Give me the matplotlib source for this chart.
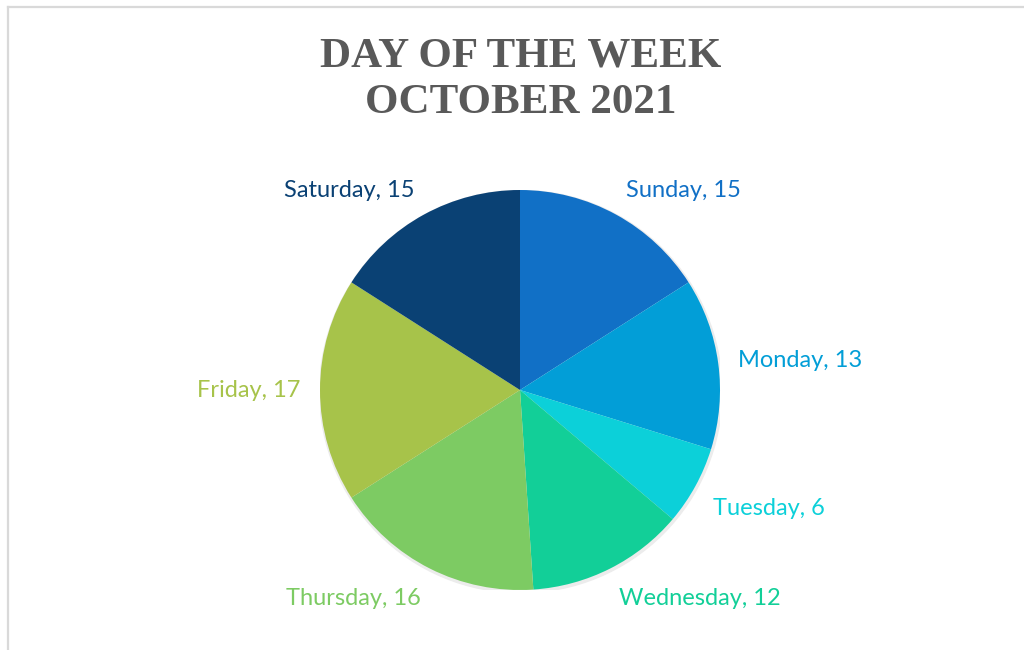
import matplotlib
matplotlib.use("Agg")
import matplotlib.pyplot as plt
from matplotlib.lines import Line2D
from matplotlib.patches import Circle

days = ['Sunday', 'Monday', 'Tuesday', 'Wednesday', 'Thursday', 'Friday', 'Saturday']
counts = [15, 13, 6, 12, 16, 17, 15]
colors = ['#1170C6', '#029ED7', '#0CD0D9', '#12CF98', '#7DCB63', '#A7C34A', '#0A4174']
title = 'DAY OF THE WEEK\nOCTOBER 2021'

fig = plt.figure(figsize=(10.24, 6.5), dpi=100)
fig.patch.set_facecolor('white')

# light frame on the left and top like the screenshot
fig.add_artist(Line2D([7.5 / 1024, 7.5 / 1024], [0, 1 - 6.5 / 650], color='#d9d9d9', lw=1.6))
fig.add_artist(Line2D([7.5 / 1024, 1], [1 - 6.5 / 650, 1 - 6.5 / 650], color='#d9d9d9', lw=1.6))

fig.text(521 / 1024, 1 - 80 / 650, title, ha='center', va='center',
         fontsize=31, fontweight='bold', family='Liberation Serif',
         color='#595959', linespacing=1.3)

ax = fig.add_axes([320 / 1024, 60 / 650, 400 / 1024, 400 / 650])
ax.add_patch(Circle((0.004, -0.008), 1.006, color='#ececec', zorder=0))
wedges, texts = ax.pie(counts, colors=colors, startangle=90, counterclock=False,
                       radius=1, labels=[f'{d}, {c}' for d, c in zip(days, counts)],
                       labeldistance=1.1,
                       textprops=dict(fontsize=17, family='Lato'),
                       wedgeprops=dict(linewidth=0))
for t, col in zip(texts, colors):
    t.set_color(col)
    x, y = t.get_position()
    if y > 0.5:
        t.set_va('baseline')
    elif y < -0.5:
        t.set_va('top')
        t.set_y(y - 0.01)
    else:
        t.set_va('center')
ax.set_xlim(-1, 1)
ax.set_ylim(-1, 1)
ax.set_aspect('equal')

fig.savefig('out.png', dpi=100)
